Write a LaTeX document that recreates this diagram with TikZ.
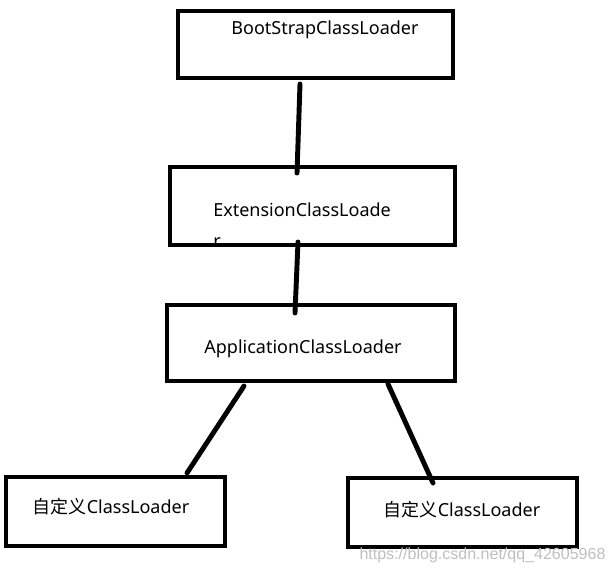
\documentclass[tikz,border=0pt]{standalone}
\usepackage{fontspec}
\setmainfont{Noto Sans}
\newfontfamily\cjkfont{Noto Sans CJK SC}
\newfontfamily\markfont{Liberation Sans}
\tikzset{
  loaderbox/.style={draw=black, line width=3.5pt, outer sep=0pt, inner sep=0pt},
  loadertext/.style={inner sep=0pt, font=\fontsize{12.8}{22}\selectfont},
  link/.style={line width=3.5pt, line cap=round}
}
\begin{document}
\begin{tikzpicture}[x=0.025cm,y=-0.025cm]
     \useasboundingbox (0,0) rectangle (612,573);
\node[loadertext] (boottext) at (325,30) {BootStrapClassLoader};
\node[loadertext,align=left,anchor=west] (exttext) at (213,225) {ExtensionClassLoade\\r};
\node[loadertext] (apptext) at (303,349) {ApplicationClassLoader};
\node[loadertext] (lefttext) at (111,507) {{\cjkfont 自定义}ClassLoader};
\node[loadertext] (righttext) at (462,510) {{\cjkfont 自定义}ClassLoader};
        \node[loaderbox,minimum width=275*0.025cm,minimum height=67*0.025cm] (boot) at (315.5,44.5) {};
        \node[loaderbox,minimum width=285*0.025cm,minimum height=78*0.025cm] (ext) at (312.5,206) {};
        \node[loaderbox,minimum width=288*0.025cm,minimum height=76*0.025cm] (app) at (311,343) {};
        \node[loaderbox,minimum width=219*0.025cm,minimum height=69*0.025cm] (custleft) at (115.5,511.5) {};
        \node[loaderbox,minimum width=229*0.025cm,minimum height=69*0.025cm] (custright) at (462.5,512.5) {};
    \draw[link] ([shift={(-15.5,6)}]boot.south) -- ([shift={(-15.5,6)}]ext.north);
    \draw[link] ([shift={(-14.5,-3)}]ext.south) -- ([shift={(-16,8)}]app.north);
    \draw[link] ([shift={(-67,5)}]app.south) -- ([shift={(71.5,-4)}]custleft.north);
    \draw[link] ([shift={(77,3)}]app.south) -- ([shift={(-29.5,5)}]custright.north);
\node[text=black!25, inner sep=0pt, font=\markfont\fontsize{11.4}{12}\selectfont] (csdnmark) at (482.5,555) {https://blog.csdn.net/qq\_42605968};
    \end{tikzpicture}
\end{document}
